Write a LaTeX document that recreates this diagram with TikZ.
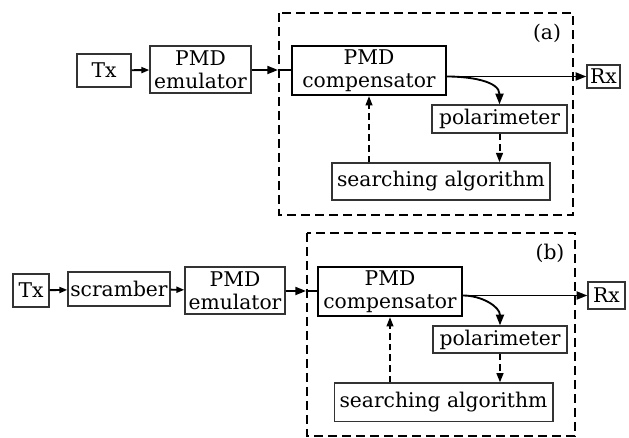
\documentclass[tikz,border=0pt]{standalone}
\usepackage{fontspec}
\setmainfont{DejaVu Serif}
\usetikzlibrary{arrows.meta}
\usetikzlibrary{calc}
\tikzset{blk/.style={draw=black!80,line width=1pt,inner sep=0pt,align=center,font=\fontsize{15.2}{17}\selectfont}}

\begin{document}
\begin{tikzpicture}[x=0.75pt,y=-0.75pt]
  \tikzset{mainblk/.style={blk,draw=black,line width=1.6pt}}
  \tikzset{sig/.style={-{Triangle[length=8pt,width=6pt]},line width=1.4pt}}
  \tikzset{ctl/.style={-{Triangle[length=7pt,width=5pt]},line width=1.5pt,dash pattern=on 5pt off 3pt}}
  \tikzset{frame/.style={line width=1.8pt,dash pattern=on 7pt off 3.5pt}}
  \tikzset{tag/.style={font=\fontsize{15.2}{17}\selectfont}}
  \useasboundingbox (0,0) rectangle (629,438);

  % setup (a)
  \draw[frame] (279,13) rectangle (573,215);
  \node[tag] (labA) at (547,33) {(a)};
  \node[blk,minimum width=40.5pt,minimum height=24.75pt] (txA) at (104,70.5) {Tx};
  \node[blk,minimum width=75.75pt,minimum height=35.25pt] (emuA) at (200.5,69.5) {PMD\\emulator};
  \node[mainblk,minimum width=115.5pt,minimum height=36.75pt] (compA) at (369,70.5) {PMD\\compensator};
  \node[blk,minimum width=24.75pt,minimum height=17.25pt] (rxA) at (603.5,76.5) {Rx};
  \node[blk,minimum width=101.25pt,minimum height=21pt] (polA) at (499.5,119) {polarimeter};
  \node[blk,minimum width=163.5pt,minimum height=27.75pt] (srchA) at (441,181.5) {searching algorithm};
  \coordinate (inA) at (278,70);
  \draw[sig,-{Triangle[length=6pt,width=4.5pt]}] (txA) -- (emuA);
  \draw[sig] (emuA.east |- inA) -- (inA);
  \draw[line width=1pt] (inA) -- (compA.west |- inA);
  \draw[sig] (compA.east |- rxA) -- (rxA.west);
  \draw[sig] (compA.east |- rxA) to[out=0,in=90] (polA.north);
  \draw[ctl] (polA) -- (srchA.north -| polA);
  \draw[ctl] (srchA.north -| compA) -- (compA.south);

  % setup (b)
  \draw[frame] (307,233) rectangle (575,436);
  \node[tag] (labB) at (550,253) {(b)};
  \node[blk,minimum width=27pt,minimum height=24.75pt] (txB) at (31,290.5) {Tx};
  \node[blk,minimum width=76.5pt,minimum height=25.5pt] (scrB) at (119,289) {scramber};
  \node[blk,minimum width=75pt,minimum height=35.25pt] (emuB) at (235,290.5) {PMD\\emulator};
  \node[mainblk,minimum width=108pt,minimum height=36.75pt] (compB) at (390,291.5) {PMD\\compensator};
  \node[blk,minimum width=27.75pt,minimum height=20.25pt] (rxB) at (606.5,295.5) {Rx};
  \node[blk,minimum width=100.5pt,minimum height=20.25pt] (polB) at (500,339.5) {polarimeter};
  \node[blk,minimum width=164pt,minimum height=29pt] (srchB) at (443.5,402.5) {searching algorithm};
  \coordinate (inB) at (306,291);
  \draw[sig,-{Triangle[length=6pt,width=4.5pt]}] (txB) -- (scrB);
  \draw[sig,-{Triangle[length=6pt,width=4.5pt]}] (scrB) -- (emuB);
  \draw[sig] (emuB.east |- inB) -- (inB);
  \draw[line width=1pt] (inB) -- (compB.west |- inB);
  \draw[sig] (compB.east |- rxB) -- (rxB.west);
  \draw[sig] (compB.east |- rxB) to[out=0,in=90] (polB.north);
  \draw[ctl] (polB) -- (srchB.north -| polB);
  \draw[ctl] (srchB.north -| compB) -- (compB.south);
\end{tikzpicture}
\end{document}
